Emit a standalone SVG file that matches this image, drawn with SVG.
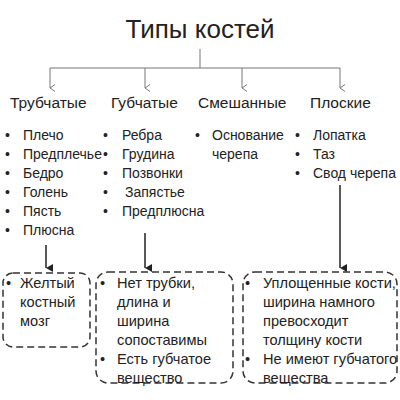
<svg xmlns="http://www.w3.org/2000/svg" width="400" height="400" viewBox="0 0 400 400">
<defs>
<marker id="ag" markerWidth="8" markerHeight="8" refX="4" refY="7" orient="auto" markerUnits="userSpaceOnUse">
<path d="M0.5,2 L4,7 L7.5,2" fill="none" stroke="#777" stroke-width="1"/>
</marker>
<marker id="ab" markerWidth="10" markerHeight="10" refX="4" refY="8" orient="auto" markerUnits="userSpaceOnUse">
<path d="M0,1 L4,8 L8,1 Z" fill="#222"/>
</marker>
<style>
text{font-family:"Liberation Sans","DejaVu Sans",sans-serif;fill:#222}
.t{font-size:26px}
.h{font-size:15.5px}
.b{font-size:14px}
.x{font-size:14.6px}
.g{stroke:#777;stroke-width:1;fill:none}
.k{stroke:#222;stroke-width:1.5;fill:none}
.d{stroke:#333;stroke-width:1.5;fill:none;stroke-dasharray:7 4}
</style>
</defs>
<rect width="400" height="400" fill="#fff"/>
<g id="title"><text class="t" x="200" y="38" text-anchor="middle">Типы костей</text></g>
<g id="connectors">
<path class="g" d="M200,49 V68 M50,68 H340"/>
<path class="g" d="M50,68 V88" marker-end="url(#ag)"/>
<path class="g" d="M145,68 V88" marker-end="url(#ag)"/>
<path class="g" d="M242,68 V88" marker-end="url(#ag)"/>
<path class="g" d="M340,68 V88" marker-end="url(#ag)"/>
<path class="k" d="M46,245 V268" marker-end="url(#ab)"/>
<path class="k" d="M145,233 V268" marker-end="url(#ab)"/>
<path class="k" d="M340,185 V268" marker-end="url(#ab)"/>
</g>
<g id="tubular">
<text class="h" x="10" y="108">Трубчатые</text>
<text class="b"><tspan x="5" y="140">•</tspan><tspan x="23" y="140">Плечо</tspan><tspan x="5" y="159">•</tspan><tspan x="23" y="159">Предплечье</tspan><tspan x="5" y="178">•</tspan><tspan x="23" y="178">Бедро</tspan><tspan x="5" y="197">•</tspan><tspan x="23" y="197">Голень</tspan><tspan x="5" y="216">•</tspan><tspan x="23" y="216">Пясть</tspan><tspan x="5" y="235">•</tspan><tspan x="23" y="235">Плюсна</tspan></text>
</g>
<g id="spongy">
<text class="h" x="111" y="108">Губчатые</text>
<text class="b"><tspan x="103" y="140">•</tspan><tspan x="122" y="140">Ребра</tspan><tspan x="103" y="159">•</tspan><tspan x="122" y="159">Грудина</tspan><tspan x="103" y="178">•</tspan><tspan x="122" y="178">Позвонки</tspan><tspan x="103" y="197">•</tspan><tspan x="125" y="197">Запястье</tspan><tspan x="103" y="216">•</tspan><tspan x="122" y="216">Предплюсна</tspan></text>
</g>
<g id="mixed">
<text class="h" x="198" y="108">Смешанные</text>
<text class="b"><tspan x="195" y="140">•</tspan><tspan x="212" y="140">Основание</tspan><tspan x="212" y="159">черепа</tspan></text>
</g>
<g id="flat">
<text class="h" x="310" y="108">Плоские</text>
<text class="b"><tspan x="295" y="140">•</tspan><tspan x="313" y="140">Лопатка</tspan><tspan x="295" y="159">•</tspan><tspan x="313" y="159">Таз</tspan><tspan x="295" y="178">•</tspan><tspan x="313" y="178">Свод черепа</tspan></text>
</g>
<g id="box-tubular">
<rect class="d" x="3" y="273" width="87" height="74" rx="10"/>
<text class="x"><tspan x="6" y="288">•</tspan><tspan x="20" y="288">Желтый</tspan><tspan x="20" y="307">костный</tspan><tspan x="20" y="326">мозг</tspan></text>
</g>
<g id="box-spongy">
<rect class="d" x="96" y="272" width="137" height="111" rx="12"/>
<text class="x"><tspan x="100" y="288">•</tspan><tspan x="117" y="288">Нет трубки,</tspan><tspan x="117" y="307">длина и</tspan><tspan x="117" y="326">ширина</tspan><tspan x="117" y="345">сопоставимы</tspan><tspan x="100" y="364">•</tspan><tspan x="117" y="364">Есть губчатое</tspan><tspan x="117" y="383">вещество</tspan></text>
</g>
<g id="box-flat">
<rect class="d" x="243" y="272" width="154" height="111" rx="12"/>
<text class="x"><tspan x="245" y="288">•</tspan><tspan x="263" y="288">Уплощенные кости,</tspan><tspan x="263" y="307">ширина намного</tspan><tspan x="263" y="326">превосходит</tspan><tspan x="263" y="345">толщину кости</tspan><tspan x="245" y="364">•</tspan><tspan x="263" y="364">Не имеют губчатого</tspan><tspan x="263" y="383">вещества</tspan></text>
</g>
</svg>
